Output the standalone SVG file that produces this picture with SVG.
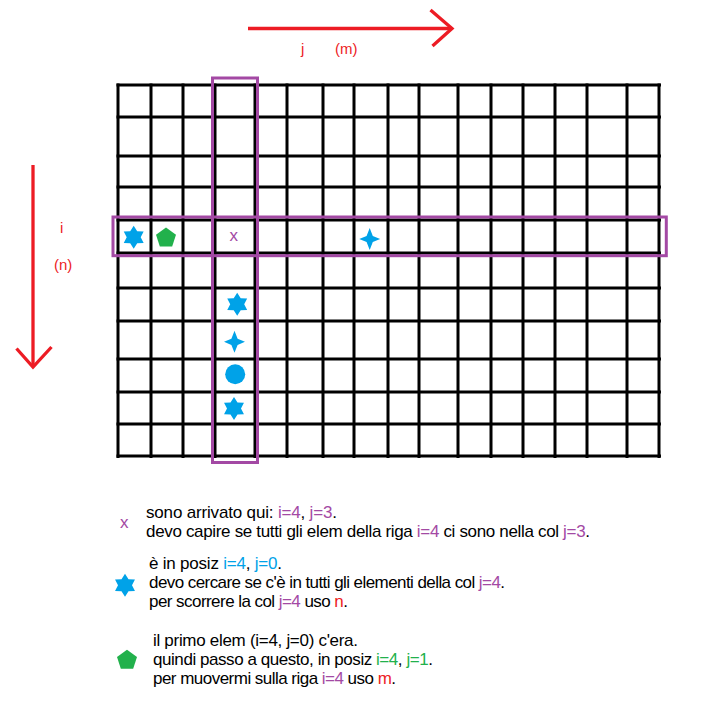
<svg xmlns="http://www.w3.org/2000/svg" width="715" height="709" viewBox="0 0 715 709">
<style>
text{font-family:"Liberation Sans",Arial,sans-serif;font-size:17px;fill:#000}
.g line{stroke:#000;stroke-width:3}
.hl{fill:none;stroke:#A349A4;stroke-width:3}
.ax{stroke:#ED1C24;stroke-width:3.3;fill:none}
.red{fill:#ED1C24}
.pur{fill:#A349A4}
.blu{fill:#00A2E8}
.grn{fill:#22B14C}
.lbl{font-size:15px;fill:#ED1C24}
</style>
<defs>
<polygon id="hex" points="0,-11.5 3.5,-6 9.96,-5.75 7,0 9.96,5.75 3.5,6 0,11.5 -3.5,6 -9.96,5.75 -7,0 -9.96,-5.75 -3.5,-6"/>
<path id="spark" d="M0,-11 L3.1,-3.1 L10.5,0 L3.1,3.1 L0,11 L-3.1,3.1 L-10.5,0 L-3.1,-3.1Z"/>
<polygon id="pent" points="0,-10.5 9.99,-3.24 6.17,8.49 -6.17,8.49 -9.99,-3.24" stroke-linejoin="round"/>
</defs>
<rect width="715" height="709" fill="#fff"/>

<g id="connectors">
<g id="arrow-j">
<line class="ax" x1="248" y1="28.5" x2="452" y2="28.5"/>
<polyline class="ax" points="430.5,10 452,28.5 432.5,46"/>
</g>
<g id="arrow-i">
<line class="ax" x1="33" y1="165" x2="33" y2="367"/>
<polyline class="ax" points="16.5,348.5 33,367 51.5,347"/>
</g>
</g>

<g id="label-j"><text class="lbl" x="301" y="54">j</text><text class="lbl" x="335" y="54">(m)</text></g>
<g id="label-i"><text class="lbl" x="60" y="233">i</text><text class="lbl" x="54" y="270">(n)</text></g>

<g id="grid" class="g">
<line x1="118" y1="83.5" x2="118" y2="458"/>
<line x1="151" y1="83.5" x2="151" y2="458"/>
<line x1="183" y1="83.5" x2="183" y2="458"/>
<line x1="215" y1="83.5" x2="215" y2="458"/>
<line x1="255" y1="83.5" x2="255" y2="458"/>
<line x1="287" y1="83.5" x2="287" y2="458"/>
<line x1="323" y1="83.5" x2="323" y2="458"/>
<line x1="354" y1="83.5" x2="354" y2="458"/>
<line x1="388" y1="83.5" x2="388" y2="458"/>
<line x1="419" y1="83.5" x2="419" y2="458"/>
<line x1="458" y1="83.5" x2="458" y2="458"/>
<line x1="491" y1="83.5" x2="491" y2="458"/>
<line x1="523" y1="83.5" x2="523" y2="458"/>
<line x1="555" y1="83.5" x2="555" y2="458"/>
<line x1="587" y1="83.5" x2="587" y2="458"/>
<line x1="627" y1="83.5" x2="627" y2="458"/>
<line x1="659" y1="83.5" x2="659" y2="458"/>
<line x1="116.5" y1="85" x2="661" y2="85"/>
<line x1="116.5" y1="117" x2="661" y2="117"/>
<line x1="116.5" y1="156" x2="661" y2="156"/>
<line x1="116.5" y1="187" x2="661" y2="187"/>
<line x1="116.5" y1="220" x2="661" y2="220"/>
<line x1="116.5" y1="253" x2="661" y2="253"/>
<line x1="116.5" y1="288" x2="661" y2="288"/>
<line x1="116.5" y1="321" x2="661" y2="321"/>
<line x1="116.5" y1="359" x2="661" y2="359"/>
<line x1="116.5" y1="392" x2="661" y2="392"/>
<line x1="116.5" y1="424" x2="661" y2="424"/>
<line x1="116.5" y1="456" x2="661" y2="456"/>
</g>

<g id="col-highlight"><rect class="hl" x="212.5" y="78" width="45" height="384.5"/></g>
<g id="row-highlight"><rect class="hl" x="113" y="217" width="553.3" height="38.7"/></g>

<g id="cell-hex-0" class="blu"><use href="#hex" x="133.7" y="237.2"/></g>
<g id="cell-pent-1" class="grn"><use href="#pent" x="166" y="238"/></g>
<g id="cell-x"><text class="pur" x="229.5" y="241" font-size="19px">x</text></g>
<g id="cell-spark-row" class="blu"><use href="#spark" x="369.7" y="239"/></g>
<g id="cell-hex-col1" class="blu"><use href="#hex" x="237.2" y="304.2"/></g>
<g id="cell-spark-col" class="blu"><use href="#spark" x="234.5" y="341.8"/></g>
<g id="cell-circle" class="blu"><circle cx="235.2" cy="374.2" r="10"/></g>
<g id="cell-hex-col2" class="blu"><use href="#hex" x="234" y="408.5"/></g>

<g id="legend-x">
<text class="pur" x="120" y="527.5" font-size="18px">x</text>
<text x="146" y="518" textLength="191">sono arrivato qui: <tspan class="pur">i=4</tspan>, <tspan class="pur">j=3</tspan>.</text>
<text x="146" y="537" textLength="444">devo capire se tutti gli elem della riga <tspan class="pur">i=4</tspan> ci sono nella col <tspan class="pur">j=3</tspan>.</text>
</g>

<g id="legend-hex">
<use href="#hex" class="blu" x="125" y="585.3"/>
<text x="149" y="569" textLength="133">è in posiz <tspan class="blu">i=4</tspan>, <tspan class="blu">j=0</tspan>.</text>
<text x="149" y="588" textLength="356">devo cercare se c'è in tutti gli elementi della col <tspan class="pur">j=4</tspan>.</text>
<text x="149" y="607" textLength="199">per scorrere la col <tspan class="pur">j=4</tspan> uso <tspan class="red">n</tspan>.</text>
</g>

<g id="legend-pent">
<use href="#pent" class="grn" x="127" y="660.2"/>
<text x="153" y="645.5" textLength="205">il primo elem (i=4, j=0) c'era.</text>
<text x="153" y="664.5" textLength="280">quindi passo a questo, in posiz <tspan class="grn">i=4</tspan>, <tspan class="grn">j=1</tspan>.</text>
<text x="153" y="683.5" textLength="243">per muovermi sulla riga <tspan class="pur">i=4</tspan> uso <tspan class="red">m</tspan>.</text>
</g>
</svg>
